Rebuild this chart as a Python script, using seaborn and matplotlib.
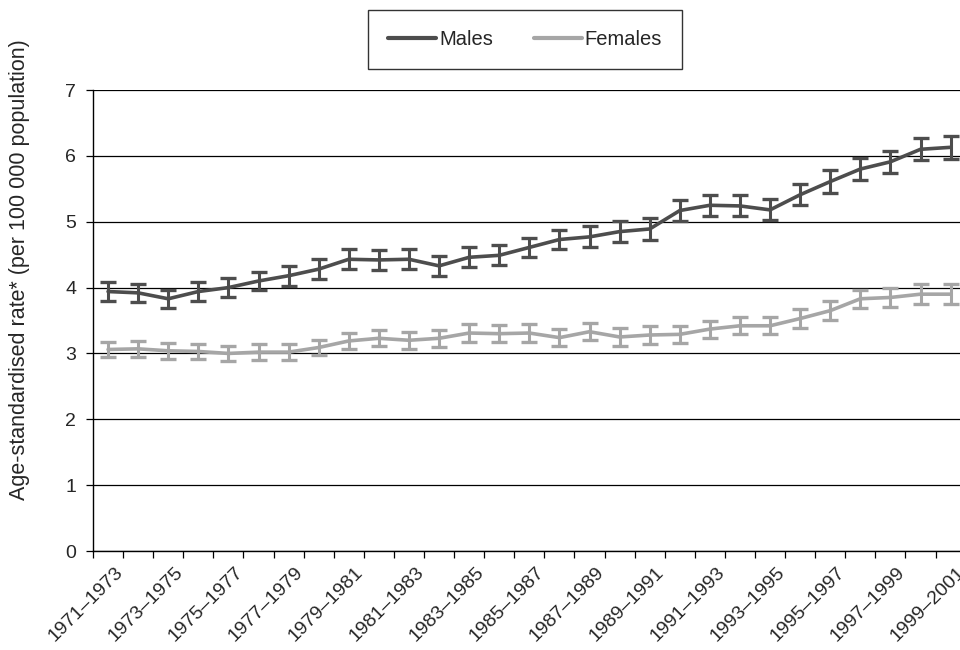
import numpy as np
import pandas as pd
import matplotlib
matplotlib.use("Agg")
import matplotlib.pyplot as plt
import seaborn as sns

periods = [f"{y}\u2013{y + 2}" for y in range(1971, 2000)]

males = [3.94, 3.92, 3.83, 3.94, 4.00, 4.10, 4.18, 4.28, 4.43, 4.42,
         4.43, 4.33, 4.46, 4.49, 4.61, 4.73, 4.77, 4.85, 4.89, 5.17,
         5.25, 5.24, 5.18, 5.41, 5.61, 5.80, 5.91, 6.10, 6.13]
males_err = [0.14, 0.14, 0.14, 0.14, 0.14, 0.14, 0.15, 0.15, 0.15, 0.15,
             0.15, 0.15, 0.15, 0.15, 0.15, 0.15, 0.16, 0.16, 0.16, 0.16,
             0.16, 0.16, 0.16, 0.16, 0.17, 0.17, 0.17, 0.17, 0.17]

females = [3.06, 3.07, 3.04, 3.03, 3.00, 3.02, 3.02, 3.09, 3.19, 3.23,
           3.20, 3.23, 3.31, 3.30, 3.31, 3.24, 3.33, 3.25, 3.28, 3.29,
           3.37, 3.42, 3.42, 3.53, 3.65, 3.83, 3.85, 3.90, 3.90]
females_err = [0.11, 0.12, 0.12, 0.12, 0.12, 0.12, 0.12, 0.12, 0.12, 0.12,
               0.13, 0.13, 0.13, 0.13, 0.13, 0.13, 0.13, 0.13, 0.13, 0.13,
               0.13, 0.13, 0.13, 0.14, 0.14, 0.14, 0.15, 0.15, 0.15]

colors = {"Males": "#4d4d4d", "Females": "#a6a6a6"}

idx = np.arange(len(periods))
df = pd.concat([
    pd.DataFrame({"x": idx, "rate": males, "err": males_err, "sex": "Males"}),
    pd.DataFrame({"x": idx, "rate": females, "err": females_err, "sex": "Females"}),
])

sns.set_style("white")
plt.rcParams["font.family"] = ["Liberation Sans", "DejaVu Sans"]

fig = plt.figure(figsize=(9.6, 6.5), dpi=100)
ax = fig.add_axes([0.0969, 0.1523, 0.909, 0.7092])

sns.lineplot(data=df, x="x", y="rate", hue="sex", palette=colors,
             linewidth=2.6, ax=ax, legend=False)
for sex, g in df.groupby("sex"):
    ax.errorbar(g["x"], g["rate"], yerr=g["err"], fmt="none",
                ecolor=colors[sex], elinewidth=2.2, capsize=5.5, capthick=2.4)

ax.set_xlim(-0.5, len(periods) - 0.5)
ax.set_ylim(0, 7)
ax.set_yticks(range(0, 8))
ax.yaxis.grid(True, color="black", linewidth=0.9)
ax.set_axisbelow(True)

# boundary ticks (major) and every-other period label (minor)
ax.set_xticks(np.arange(-0.5, len(periods), 1.0))
ax.set_xticklabels([])
ax.set_xticks(idx[::2] + 0.2, [periods[i] for i in idx[::2]], minor=True)
ax.tick_params(axis="x", which="major", direction="out", length=5,
               width=0.9, color="black", bottom=True)
ax.tick_params(axis="x", which="minor", length=0, labelsize=14, pad=9)
for lbl in ax.get_xticklabels(minor=True):
    lbl.set_rotation(45)
    lbl.set_ha("right")
    lbl.set_rotation_mode("anchor")
ax.tick_params(axis="y", direction="out", length=5, width=0.9,
               color="black", left=True, labelsize=14, pad=7)

for s in ["top", "right"]:
    ax.spines[s].set_visible(False)
for s in ["left", "bottom"]:
    ax.spines[s].set_color("black")
    ax.spines[s].set_linewidth(1.0)

ax.set_xlabel("")
ax.set_ylabel("Age-standardised rate* (per 100 000 population)", fontsize=15.5)
ax.yaxis.set_label_coords(-0.072, 0.61)

handles = [plt.Line2D([], [], color=colors[k], linewidth=3) for k in ["Males", "Females"]]
leg = fig.legend(handles, ["Males", "Females"], loc="center",
                 bbox_to_anchor=(0.547, 0.939), ncol=2, fontsize=14.5,
                 frameon=True, fancybox=False, edgecolor="black",
                 handlelength=2.4, handletextpad=0.15, columnspacing=2.0,
                 borderpad=1.0, borderaxespad=0)
leg.get_frame().set_linewidth(1.0)

fig.savefig("out.png", dpi=100)
